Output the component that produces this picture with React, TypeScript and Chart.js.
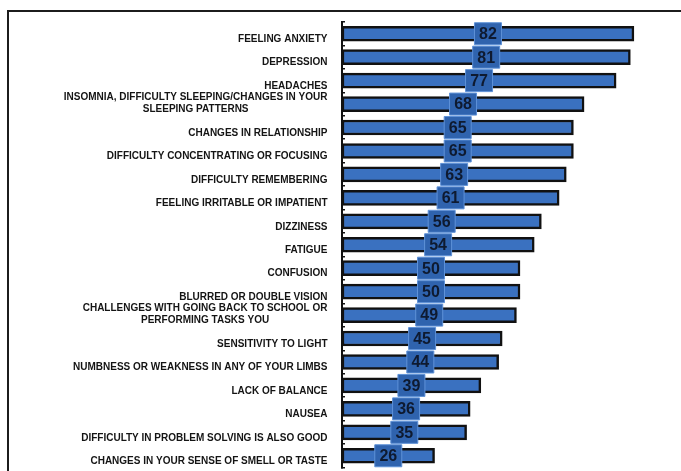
import React, { useEffect, useRef } from "react";
import { Chart, registerables } from "chart.js";

Chart.register(...registerables);

const categories: string[][] = [
  ["FEELING ANXIETY"],
  ["DEPRESSION"],
  ["HEADACHES"],
  ["INSOMNIA, DIFFICULTY SLEEPING/CHANGES IN YOUR", "SLEEPING PATTERNS"],
  ["CHANGES IN RELATIONSHIP"],
  ["DIFFICULTY CONCENTRATING OR FOCUSING"],
  ["DIFFICULTY REMEMBERING"],
  ["FEELING IRRITABLE OR IMPATIENT"],
  ["DIZZINESS"],
  ["FATIGUE"],
  ["CONFUSION"],
  ["BLURRED OR DOUBLE VISION"],
  ["CHALLENGES WITH GOING BACK TO SCHOOL OR", "PERFORMING TASKS YOU"],
  ["SENSITIVITY TO LIGHT"],
  ["NUMBNESS OR WEAKNESS IN ANY OF YOUR LIMBS"],
  ["LACK OF BALANCE"],
  ["NAUSEA"],
  ["DIFFICULTY IN PROBLEM SOLVING IS ALSO GOOD"],
  ["CHANGES IN YOUR SENSE OF SMELL OR TASTE"],
];

const values: number[] = [82, 81, 77, 68, 65, 65, 63, 61, 56, 54, 50, 50, 49, 45, 44, 39, 36, 35, 26];

const axisMin = 0;
const axisMax = 100;

const labelPlugin = {
  id: "customLabels",
  afterDatasetsDraw(chart: any) {
    const { ctx } = chart;
    const yScale = chart.scales.y;
    const meta = chart.getDatasetMeta(0);
    ctx.save();
    ctx.font = "bold 10px 'Liberation Sans', Arial, sans-serif";
    ctx.fillStyle = "#141414";
    ctx.textBaseline = "middle";
    const rightX = chart.chartArea.left - 14.5;
    categories.forEach((lines, i) => {
      const cy = yScale.getPixelForTick(i);
      const n = lines.length;
      const widths = lines.map((l) => ctx.measureText(l).width);
      const maxW = Math.max(...widths);
      lines.forEach((line, j) => {
        const ly = cy + 5.5 - (n - 1 - j) * 12.5;
        if (n === 1) {
          ctx.textAlign = "right";
          ctx.fillText(line, rightX, ly);
        } else {
          ctx.textAlign = "center";
          ctx.fillText(line, rightX - maxW / 2, ly);
        }
      });
    });
    meta.data.forEach((bar: any, i: number) => {
      const cx = (bar.x + bar.base) / 2;
      const cy = bar.y;
      const w = 28;
      const h = 23;
      ctx.fillStyle = "#2f63ae";
      ctx.strokeStyle = "#5f92d8";
      ctx.lineWidth = 1;
      ctx.beginPath();
      ctx.rect(cx - w / 2 + 0.5, cy - h / 2 + 0.5, w - 1, h - 1);
      ctx.fill();
      ctx.stroke();
      ctx.fillStyle = "#0e1a30";
      ctx.font = "bold 16px 'Liberation Sans', Arial, sans-serif";
      ctx.textAlign = "center";
      ctx.textBaseline = "middle";
      ctx.fillText(String(values[i]), cx, cy + 1);
    });
    ctx.restore();
  },
};

export default function App() {
  const ref = useRef<HTMLCanvasElement | null>(null);
  useEffect(() => {
    if (!ref.current) return;
    const chart = new Chart(ref.current, {
      type: "bar",
      data: {
        labels: categories.map((c) => c.join(" ")),
        datasets: [
          {
            data: values,
            backgroundColor: "#3a71c0",
            borderColor: "#111111",
            borderWidth: 2.5,
            borderSkipped: false,
            barThickness: 15,
          },
        ],
      },
      options: {
        indexAxis: "y",
        animation: false,
        responsive: false,
        devicePixelRatio: 1,
        layout: { padding: { top: 10, bottom: 14.5, left: 0, right: 0 } },
        plugins: {
          legend: { display: false },
          tooltip: { enabled: false },
          title: { display: false },
        },
        scales: {
          x: {
            display: false,
            min: axisMin,
            max: axisMax,
          },
          y: {
            display: true,
            ticks: { display: false },
            grid: {
              drawOnChartArea: false,
              drawTicks: true,
              tickLength: -3,
              color: "#111111",
              lineWidth: 1.5,
              offset: true,
            },
            border: { display: true, color: "#111111", width: 2 },
            afterFit: (s: any) => {
              s.width = 333;
            },
          },
        },
      },
      plugins: [labelPlugin],
    });
    return () => chart.destroy();
  }, []);

  return (
    <div
      style={{
        position: "fixed",
        left: 7,
        top: 10,
        width: 700,
        height: 470,
        borderLeft: "2px solid #1c1c1c",
        borderTop: "2px solid #1c1c1c",
        overflow: "hidden",
        background: "#fff",
      }}
    >
      <canvas ref={ref} width={689} height={470} style={{ display: "block", width: 689, height: 470 }} />
    </div>
  );
}
